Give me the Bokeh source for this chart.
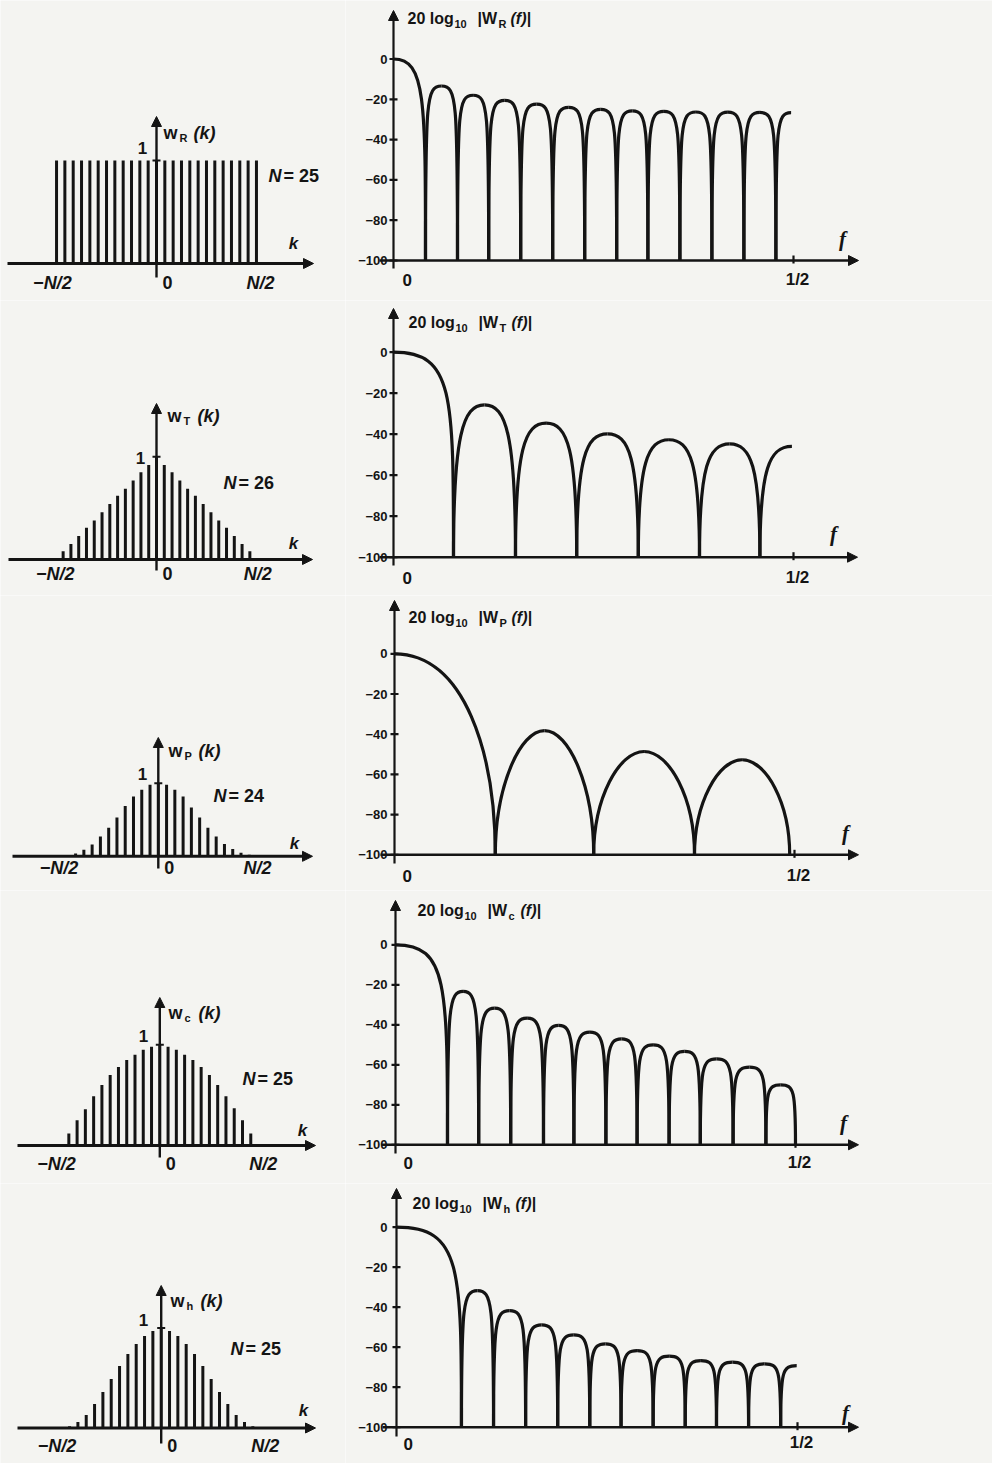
from bokeh.plotting import figure
from bokeh.layouts import column, row
from bokeh.models import Arrow, NormalHead, Range1d
from bokeh.core.properties import value
from bokeh.embed import file_html
from bokeh.resources import INLINE

# ---------------------------------------------------------------- data
# time-domain windows w(k)
rect_k = [-12, -11, -10, -9, -8, -7, -6, -5, -4, -3, -2, -1, 0, 1, 2, 3, 4, 5, 6, 7, 8, 9, 10, 11, 12]
rect_w = [1.0, 1.0, 1.0, 1.0, 1.0, 1.0, 1.0, 1.0, 1.0, 1.0, 1.0, 1.0, 1.0,
          1.0, 1.0, 1.0, 1.0, 1.0, 1.0, 1.0, 1.0, 1.0, 1.0, 1.0, 1.0]

tri_k = [-12, -11, -10, -9, -8, -7, -6, -5, -4, -3, -2, -1, 0, 1, 2, 3, 4, 5, 6, 7, 8, 9, 10, 11, 12]
tri_w = [0.08, 0.15, 0.23, 0.31, 0.38, 0.46, 0.54, 0.62, 0.69, 0.77, 0.85, 0.92, 1.00,
         0.92, 0.85, 0.77, 0.69, 0.62, 0.54, 0.46, 0.38, 0.31, 0.23, 0.15, 0.08]

parzen_k = [-11, -10, -9, -8, -7, -6, -5, -4, -3, -2, -1, 0, 1, 2, 3, 4, 5, 6, 7, 8, 9, 10, 11]
parzen_w = [0.015, 0.04, 0.09, 0.16, 0.27, 0.39, 0.53, 0.69, 0.82, 0.91, 0.98, 1.00,
            0.98, 0.91, 0.82, 0.67, 0.53, 0.39, 0.27, 0.17, 0.10, 0.05, 0.02]

cos_k = [-11, -10, -9, -8, -7, -6, -5, -4, -3, -2, -1, 0, 1, 2, 3, 4, 5, 6, 7, 8, 9, 10, 11]
cos_w = [0.12, 0.25, 0.36, 0.49, 0.60, 0.70, 0.78, 0.85, 0.90, 0.95, 0.98, 1.00,
         0.98, 0.95, 0.90, 0.85, 0.78, 0.70, 0.60, 0.49, 0.37, 0.25, 0.12]

hann_k = [-11, -10, -9, -8, -7, -6, -5, -4, -3, -2, -1, 0, 1, 2, 3, 4, 5, 6, 7, 8, 9, 10, 11]
hann_w = [0.017, 0.06, 0.13, 0.24, 0.36, 0.49, 0.62, 0.74, 0.84, 0.92, 0.97, 1.00,
          0.97, 0.92, 0.84, 0.74, 0.62, 0.49, 0.36, 0.24, 0.13, 0.06, 0.017]

window_N = [25, 26, 24, 25, 25]
window_sub = ["R", "T", "P", "c", "h"]

# spectra 20 log10 |W(f)| : nulls (f), side-lobe peaks (dB), end point (f, dB)
rect_nulls = [0.040, 0.080, 0.119, 0.159, 0.199, 0.239, 0.279, 0.318, 0.358, 0.398, 0.438, 0.478]
rect_peaks = [-13.4, -18.0, -20.5, -22.4, -24.0, -25.0, -25.7, -26.0, -26.3, -26.4, -26.5]
rect_end = (0.497, -26.6)

tri_nulls = [0.075, 0.1525, 0.229, 0.306, 0.3825, 0.458]
tri_peaks = [-25.7, -34.6, -39.8, -42.7, -44.7]
tri_end = (0.498, -45.9)

parzen_nulls = [0.126, 0.249, 0.375, 0.494]
parzen_peaks = [-38.2, -48.6, -52.7]
parzen_end = None

cos_nulls = [0.065, 0.104, 0.144, 0.185, 0.223, 0.263, 0.302, 0.342, 0.381, 0.422, 0.463, 0.500]
cos_peaks = [-23.3, -31.7, -36.7, -40.3, -43.7, -47.0, -50.0, -53.3, -57.0, -61.2, -70.0]
cos_end = None

hann_nulls = [0.081, 0.121, 0.161, 0.201, 0.241, 0.280, 0.320, 0.360, 0.399, 0.439, 0.479]
hann_peaks = [-31.7, -41.7, -48.8, -53.8, -58.3, -61.7, -64.5, -66.7, -67.5, -68.3]
hann_end = (0.499, -69.2)

db_ticks = [0, -20, -40, -60, -80, -100]
db_labels = ["0", "\u221220", "\u221240", "\u221260", "\u221280", "\u2212100"]
f_ticks = [0, 0.5]
f_labels = ["0", "1/2"]
k_labels = ["\u2212N/2", "0", "N/2"]

# ---------------------------------------------------------------- style / layout
PAPER = "#f4f4f1"
INK = "#141414"
FONT = value("Liberation Sans")
SERIF = value("Liberation Serif")

LX0, LX1, RX1 = 0, 345, 992
ROWS = [(0, 300), (300, 595), (595, 890), (890, 1183), (1183, 1463)]

# left: (px of k=0, px per k, px of baseline, px per unit height)
LEFT_GEOM = [(156, 8.33, 263, 103), (156, 7.78, 559, 102.7), (157.8, 8.27, 855.8, 73),
             (159.3, 8.27, 1145, 100.7), (160.7, 8.33, 1427.5, 100)]
# left axis extents: x-left, x-tip, v-bottom, v-top (px)
LEFT_AXIS = [(7, 313, 277, 116), (8, 312, 570, 403), (12, 312, 868, 737),
             (17, 315, 1157, 997), (17, 315, 1443, 1285)]
# left texts: "1", w-label, N-label, k, tick-label y
LEFT_TEXT = [((142, 147), (163, 132), (268, 175), (293, 243), 282),
             ((140, 457), (167, 415), (223, 482), (293, 543), 573),
             ((142, 773), (168, 750), (213, 795), (294, 843), 867),
             ((143, 1035), (168, 1012), (242, 1078), (302, 1130), 1163),
             ((143, 1319), (170, 1300), (230, 1348), (303, 1410), 1445)]

# right: (px of f=0, px per unit f, px of 0 dB, px per dB)
RIGHT_GEOM = [(393, 800, 58.5, 2.015), (393, 800, 351.7, 2.05), (394, 800, 653.3, 2.01),
              (395, 800, 944.3, 2.0), (396, 802, 1226.7, 2.0)]
RIGHT_AXIS = [(379, 858, 268, 10), (379, 857, 565, 308), (380, 858, 863, 600),
              (381, 858, 1153, 900), (382, 858, 1436, 1188)]
# title x, title y, "0" xy, "1/2" y, f xy
RIGHT_TEXT = [(407, 18, (402, 279), 279, (842, 238)),
              (408, 322, (402, 577), 577, (833, 533)),
              (408, 617, (402, 875), 875, (845, 832)),
              (417, 910, (403, 1162), 1162, (843, 1122)),
              (412, 1203, (403, 1443), 1442, (845, 1412))]
# curve shape styles: main lobe (p, q), side lobes (k1, k2)
MAIN_SHAPE = [(1.0, -20), (1.0, -20), (0.7, -50), (1.0, -20), (1.0, -20)]
LOBE_SHAPE = [(0.92, 0.05), (0.8, 0.3), (0.55, 0.5), (0.9, 0.1), (0.9, 0.1)]


def make_fig(x0px, x1px, top, bot, ox, kx, oy, ky):
    xr = Range1d((x0px - ox) / kx, (x1px - ox) / kx)
    yr = Range1d((oy - bot) / ky, (oy - top) / ky)
    p = figure(width=x1px - x0px, height=bot - top, x_range=xr, y_range=yr,
               output_backend="svg", toolbar_location=None,
               x_axis_location=None, y_axis_location=None, min_border=0)
    p.grid.visible = False
    p.outline_line_color = None
    p.background_fill_color = PAPER
    p.border_fill_color = PAPER

    def X(px):
        return (px - ox) / kx

    def Y(py):
        return (oy - py) / ky
    return p, X, Y


def txt(p, x, y, s, size, style="bold", align="left", font=FONT):
    p.text(x=[x], y=[y], text=[s], text_font=font, text_font_size=f"{size}px",
           text_font_style=style, text_align=align, text_baseline="middle",
           text_color=INK)


def arrow(p, xs, ys, xe, ye, lw=2.2):
    p.add_layout(Arrow(end=NormalHead(size=10, fill_color=INK, line_color=INK, line_width=1),
                       x_start=xs, y_start=ys, x_end=xe, y_end=ye,
                       line_color=INK, line_width=lw))


def left_panel(i, k, w):
    top, bot = ROWS[i]
    kx0, ks, base, hs = LEFT_GEOM[i]
    p, X, Y = make_fig(LX0, LX1, top, bot, kx0, ks, base, hs)
    xl, xt, vb, vt = LEFT_AXIS[i]
    N = window_N[i]
    p.segment(x0=k, y0=[0] * len(k), x1=k, y1=w, line_width=3, line_color=INK)
    arrow(p, X(xl), 0, X(xt), 0, 3)
    arrow(p, 0, Y(vb), 0, Y(vt), 2.4)
    p.segment(x0=[-4 / ks], y0=[1], x1=[4 / ks], y1=[1], line_width=2, line_color=INK)
    one, wl, nl, kl, ty = LEFT_TEXT[i]
    txt(p, X(one[0]), Y(one[1]), "1", 17, align="center")
    txt(p, X(wl[0]), Y(wl[1]), "w", 18)
    txt(p, X(wl[0] + 16), Y(wl[1] + 5), window_sub[i], 11)
    txt(p, X(wl[0] + 30), Y(wl[1]), "(k)", 18, style="bold italic")
    txt(p, X(nl[0]), Y(nl[1]), "N", 18, style="bold italic")
    txt(p, X(nl[0] + 15), Y(nl[1]), "= " + str(N), 18)
    txt(p, X(kl[0]), Y(kl[1]), "k", 17, style="bold italic", align="center")
    xs = [-N / 2, 11 / ks, N / 2]
    for xv, lab in zip(xs, k_labels):
        p.text(x=[xv], y=[Y(ty)], text=[lab], text_font=FONT, text_font_size="18px",
               text_font_style="bold italic" if "N" in lab else "bold",
               text_align="center", text_baseline="middle", text_color=INK)
    return p


def right_panel(i, nulls, peaks, end):
    top, bot = ROWS[i]
    fx0, fs, y0, ys = RIGHT_GEOM[i]
    p, X, Y = make_fig(LX1, RX1, top, bot, fx0, fs, y0, ys)
    floor = db_ticks[-1]
    bx0, by0, bx1, by1, cx0, cy0, cx1, cy1 = ([] for _ in range(8))

    def add(a, b, c, d, e, f_, g, h):
        bx0.append(a); by0.append(b); bx1.append(c); by1.append(d)
        cx0.append(e); cy0.append(f_); cx1.append(g); cy1.append(h)

    pm, qm = MAIN_SHAPE[i]
    n1 = nulls[0]
    add(0, db_ticks[0], n1, floor, pm * n1, db_ticks[0], n1, qm)
    k1, k2 = LOBE_SHAPE[i]
    for a, b, pk in zip(nulls[:-1], nulls[1:], peaks):
        m = (a + b) / 2
        lift = floor + k1 * (pk - floor)
        add(a, floor, m, pk, a, lift, a + k2 * (m - a), pk)
        add(m, pk, b, floor, b - k2 * (b - m), pk, b, lift)
    if end is not None:
        a = nulls[-1]
        m, pk = end
        lift = floor + k1 * (pk - floor)
        add(a, floor, m, pk, a, lift, a + k2 * (m - a), pk)
    p.bezier(x0=bx0, y0=by0, x1=bx1, y1=by1, cx0=cx0, cy0=cy0, cx1=cx1, cy1=cy1,
             line_width=3.2, line_color=INK)

    xl, xt, vb, vt = RIGHT_AXIS[i]
    arrow(p, X(xl), floor, X(xt), floor, 2.6)
    arrow(p, 0, Y(vb), 0, Y(vt), 2.2)
    p.segment(x0=[-4 / fs] * len(db_ticks), y0=db_ticks, x1=[4 / fs] * len(db_ticks),
              y1=db_ticks, line_width=2.2, line_color=INK)
    p.segment(x0=[f_ticks[1]], y0=[floor - 3 / ys], x1=[f_ticks[1]], y1=[floor + 5 / ys],
              line_width=2.2, line_color=INK)
    p.text(x=[X(387)] * len(db_ticks), y=db_ticks, text=db_labels, text_font=FONT,
           text_font_size="13px", text_font_style="bold", text_align="right",
           text_baseline="middle", text_color=INK)
    tx, tyy, zxy, hy, fxy = RIGHT_TEXT[i]
    txt(p, X(zxy[0]), Y(zxy[1]), f_labels[0], 17)
    txt(p, f_ticks[1] + 4 / fs, Y(hy), f_labels[1], 17, align="center")
    txt(p, X(fxy[0]), Y(fxy[1]), "f", 21, style="bold italic", align="center", font=SERIF)
    # title 20 log10 |W(f)|
    txt(p, X(tx), Y(tyy), "20 log", 16)
    txt(p, X(tx + 47), Y(tyy + 5), "10", 11)
    txt(p, X(tx + 70), Y(tyy), "|W", 16)
    txt(p, X(tx + 91), Y(tyy + 5), window_sub[i], 11)
    txt(p, X(tx + 103), Y(tyy), "(f)|", 16, style="bold italic")
    return p


lefts = [left_panel(0, rect_k, rect_w), left_panel(1, tri_k, tri_w),
         left_panel(2, parzen_k, parzen_w), left_panel(3, cos_k, cos_w),
         left_panel(4, hann_k, hann_w)]
rights = [right_panel(0, rect_nulls, rect_peaks, rect_end),
          right_panel(1, tri_nulls, tri_peaks, tri_end),
          right_panel(2, parzen_nulls, parzen_peaks, parzen_end),
          right_panel(3, cos_nulls, cos_peaks, cos_end),
          right_panel(4, hann_nulls, hann_peaks, hann_end)]

layout = column(*[row(l, r, spacing=0) for l, r in zip(lefts, rights)], spacing=0)
html = file_html(layout, INLINE, title="Windows and their spectra")
html = html.replace("<body>", '<body style="background:%s">' % PAPER, 1)
open("out.html", "w").write(html)
